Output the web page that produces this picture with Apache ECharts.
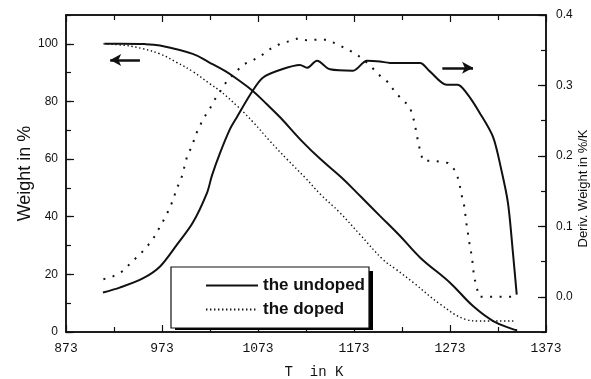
<!DOCTYPE html>
<html>
<head>
<meta charset="utf-8">
<script src="https://cdn.jsdelivr.net/npm/echarts@6/dist/echarts.min.js"></script>
<style>
  html, body { margin: 0; padding: 0; background: #fff; }
  #chart { width: 591px; height: 379px; }
</style>
</head>
<body>
<div id="chart"></div>
<script>
// temperature in K, weight in %, derivative in %/K
const undopedWeightT = [913, 930, 955, 971, 1005, 1022, 1039, 1051, 1067, 1082, 1096, 1120, 1138, 1160, 1180, 1200, 1221, 1242, 1273, 1297, 1318, 1339, 1343];
const undopedWeight  = [100, 100, 99.9, 99.4, 96.5, 93.6, 90.5, 87.8, 83.8, 79.1, 74.5, 65.8, 60, 53.6, 47, 40.3, 33.3, 25.8, 17.1, 9, 3.8, 0.9, 0.6];

const dopedWeightT = [912, 936, 953, 971, 988, 1006, 1023, 1033, 1051, 1068, 1085, 1103, 1122, 1138, 1158, 1179, 1203, 1217, 1235, 1263, 1290, 1304, 1339];
const dopedWeight  = [100, 99.4, 98.3, 96.5, 93.6, 90.2, 86.1, 83.8, 78.5, 72.8, 66.4, 60, 53.6, 47.8, 41.5, 33.9, 25.2, 21.7, 17.1, 9.6, 4.3, 3.8, 3.8];

const undopedDerivT = [911.5, 929, 953, 971, 988.6, 1005, 1020, 1025, 1033.4, 1043.8, 1051, 1066.75, 1078, 1096, 1116.75, 1124, 1134.5, 1148, 1172, 1186.5, 1200, 1210.5, 1241.75, 1252, 1269.6, 1281, 1290.4, 1304, 1317.8, 1326.5, 1333.4, 1338.6, 1342.5];
const undopedDeriv  = [0.006, 0.013, 0.026, 0.043, 0.074, 0.105, 0.148, 0.172, 0.204, 0.238, 0.255, 0.291, 0.311, 0.322, 0.329, 0.325, 0.335, 0.323, 0.321, 0.335, 0.334, 0.332, 0.332, 0.32, 0.301, 0.301, 0.289, 0.261, 0.227, 0.18, 0.133, 0.062, 0.003];

const dopedDerivT = [912, 922, 933, 941, 950, 959, 966, 971, 976, 981, 985, 988, 992, 995, 997, 1000, 1005, 1007, 1012, 1016, 1022, 1028, 1040, 1049, 1058, 1068, 1077, 1087, 1096, 1106, 1115, 1124, 1134, 1144, 1153, 1162, 1172, 1181, 1190, 1199, 1209, 1216, 1224, 1231, 1234, 1236.5, 1238, 1240, 1242, 1245, 1252, 1262, 1271, 1278, 1282, 1285, 1288, 1290, 1293, 1296, 1298, 1301, 1303.5, 1342];
const dopedDeriv  = [0.025, 0.029, 0.037, 0.049, 0.06, 0.074, 0.087, 0.1, 0.112, 0.126, 0.139, 0.153, 0.164, 0.176, 0.189, 0.203, 0.215, 0.227, 0.241, 0.253, 0.265, 0.28, 0.305, 0.318, 0.33, 0.336, 0.343, 0.353, 0.359, 0.363, 0.367, 0.364, 0.365, 0.365, 0.36, 0.354, 0.347, 0.339, 0.328, 0.315, 0.304, 0.29, 0.279, 0.27, 0.257, 0.245, 0.232, 0.219, 0.206, 0.193, 0.193, 0.192, 0.19, 0.18, 0.166, 0.145, 0.128, 0.105, 0.078, 0.055, 0.029, 0.012, 0, 0];

const xTicks = [873, 973, 1073, 1173, 1273, 1373];
const leftTicks = [0, 20, 40, 60, 80, 100];
const rightTicks = [0, 0.1, 0.2, 0.3, 0.4];

// the two arrows that tell which axis belongs to which set of curves
const leftArrowT = [919, 950];
const leftArrowW = 94.4;
const rightArrowT = [1265, 1297];
const rightArrowD = 0.325;

const zip = (xs, ys) => xs.map((x, i) => [x, ys[i]]);

const ink = '#111';
const sans = 'Liberation Sans';
const mono = 'Liberation Mono';

const chart = echarts.init(document.getElementById('chart'));

const xBase = {
  type: 'value',
  min: xTicks[0],
  max: xTicks[xTicks.length - 1],
  interval: 100,
  axisLine: { onZero: false, lineStyle: { color: ink, width: 1.5 } },
  axisTick: { inside: true, length: 7, lineStyle: { color: ink, width: 1.2 } },
  minorTick: { show: true, splitNumber: 2, length: 5, lineStyle: { color: ink, width: 1.2 } },
  splitLine: { show: false },
};

const arrowLine = { color: ink, width: 2.5, type: 'solid' };

// legend box sits at this spot; the shadow block is drawn just behind it
const legendBox = { left: 171, top: 267, width: 198, height: 59 };

chart.setOption({
  animation: false,
  backgroundColor: '#fff',
  grid: {
    left: 66, right: 45, top: 15, bottom: 47,
    outerBoundsMode: 'none',
    show: true, borderColor: ink, borderWidth: 1.5,
  },
  graphic: [{
    type: 'rect', z: 3, silent: true,
    shape: { x: legendBox.left + 4, y: legendBox.top + 4, width: legendBox.width, height: legendBox.height },
    style: { fill: '#000' },
  }],
  legend: {
    data: ['the undoped', 'the doped'],
    orient: 'vertical',
    left: legendBox.left, top: legendBox.top,
    padding: [10, 4, 10, 34],
    itemWidth: 52, itemHeight: 12, itemGap: 7,
    selectedMode: false,
    backgroundColor: '#fff',
    borderColor: ink, borderWidth: 1.2,
    itemStyle: { opacity: 0 },
    textStyle: { fontFamily: sans, fontSize: 17, fontWeight: 'bold', color: ink },
  },
  xAxis: [
    Object.assign({}, xBase, {
      position: 'bottom',
      axisLabel: { fontFamily: mono, fontSize: 13, color: ink, margin: 10, formatter: v => String(v) },
      name: 'T  in K',
      nameLocation: 'middle',
      nameGap: 33,
      nameMoveOverlap: false,
      nameTextStyle: { fontFamily: mono, fontSize: 14, color: ink, padding: [0, 0, 0, 16] },
    }),
    Object.assign({}, xBase, { position: 'top', axisLabel: { show: false } }),
  ],
  yAxis: [
    {
      type: 'value', position: 'left', min: 0, max: 110,
      axisLine: { show: true, lineStyle: { color: ink, width: 1.5 } },
      axisTick: { inside: true, length: 8, customValues: leftTicks, lineStyle: { color: ink, width: 1.2 } },
      axisLabel: { customValues: leftTicks, fontFamily: sans, fontSize: 12, color: ink, margin: 8 },
      splitLine: { show: false },
      name: 'Weight in %', nameLocation: 'middle', nameGap: 32,
      nameMoveOverlap: false,
      nameTextStyle: { fontFamily: sans, fontSize: 18, color: ink },
    },
    {
      type: 'value', position: 'right', min: -0.05, max: 0.4,
      axisLine: { show: true, lineStyle: { color: ink, width: 1.5 } },
      axisTick: { inside: true, length: 8, customValues: rightTicks, lineStyle: { color: ink, width: 1.2 } },
      axisLabel: {
        customValues: rightTicks, fontFamily: sans, fontSize: 12, color: ink, margin: 10,
        formatter: v => v.toFixed(1),
      },
      splitLine: { show: false },
      name: 'Deriv. Weight in %/K', nameLocation: 'middle', nameGap: 31,
      nameMoveOverlap: false,
      nameTextStyle: { fontFamily: sans, fontSize: 13, color: ink, padding: [0, 30, 0, 0] },
    },
    {
      type: 'value', position: 'left', min: 0, max: 110, interval: 10,
      axisLine: { show: false },
      axisTick: { inside: true, length: 5, lineStyle: { color: ink, width: 1.2 } },
      axisLabel: { show: false },
      splitLine: { show: false },
    },
    {
      type: 'value', position: 'right', min: -0.05, max: 0.4, interval: 0.05,
      axisLine: { show: false },
      axisTick: { inside: true, length: 5, lineStyle: { color: ink, width: 1.2 } },
      axisLabel: { show: false },
      splitLine: { show: false },
    },
  ],
  series: [
    {
      name: 'the undoped', type: 'line', yAxisIndex: 0,
      data: zip(undopedWeightT, undopedWeight),
      symbol: 'none', smooth: 0.4,
      lineStyle: { color: ink, width: 2 },
      itemStyle: { color: ink },
      markLine: {
        silent: true, symbol: ['arrow', 'none'], symbolSize: [9, 11],
        label: { show: false }, lineStyle: arrowLine,
        data: [[{ coord: [leftArrowT[0], leftArrowW] }, { coord: [leftArrowT[1], leftArrowW] }]],
      },
    },
    {
      name: 'the doped', type: 'line', yAxisIndex: 0,
      data: zip(dopedWeightT, dopedWeight),
      symbol: 'none', smooth: 0.4,
      lineStyle: { color: ink, width: 1.4, type: [1.4, 2.6] },
      itemStyle: { color: ink },
    },
    {
      name: 'the undoped', type: 'line', yAxisIndex: 1,
      data: zip(undopedDerivT, undopedDeriv),
      symbol: 'none', smooth: 0.3,
      lineStyle: { color: ink, width: 2 },
      itemStyle: { color: ink },
      markLine: {
        silent: true, symbol: ['none', 'arrow'], symbolSize: [9, 11],
        label: { show: false }, lineStyle: arrowLine,
        data: [[{ coord: [rightArrowT[0], rightArrowD] }, { coord: [rightArrowT[1], rightArrowD] }]],
      },
    },
    {
      name: 'the doped', type: 'line', yAxisIndex: 1,
      data: zip(dopedDerivT, dopedDeriv),
      symbol: 'none', smooth: false,
      lineStyle: { color: ink, width: 2, type: [2, 7.5] },
      itemStyle: { color: ink },
    },
  ],
});
</script>
</body>
</html>
